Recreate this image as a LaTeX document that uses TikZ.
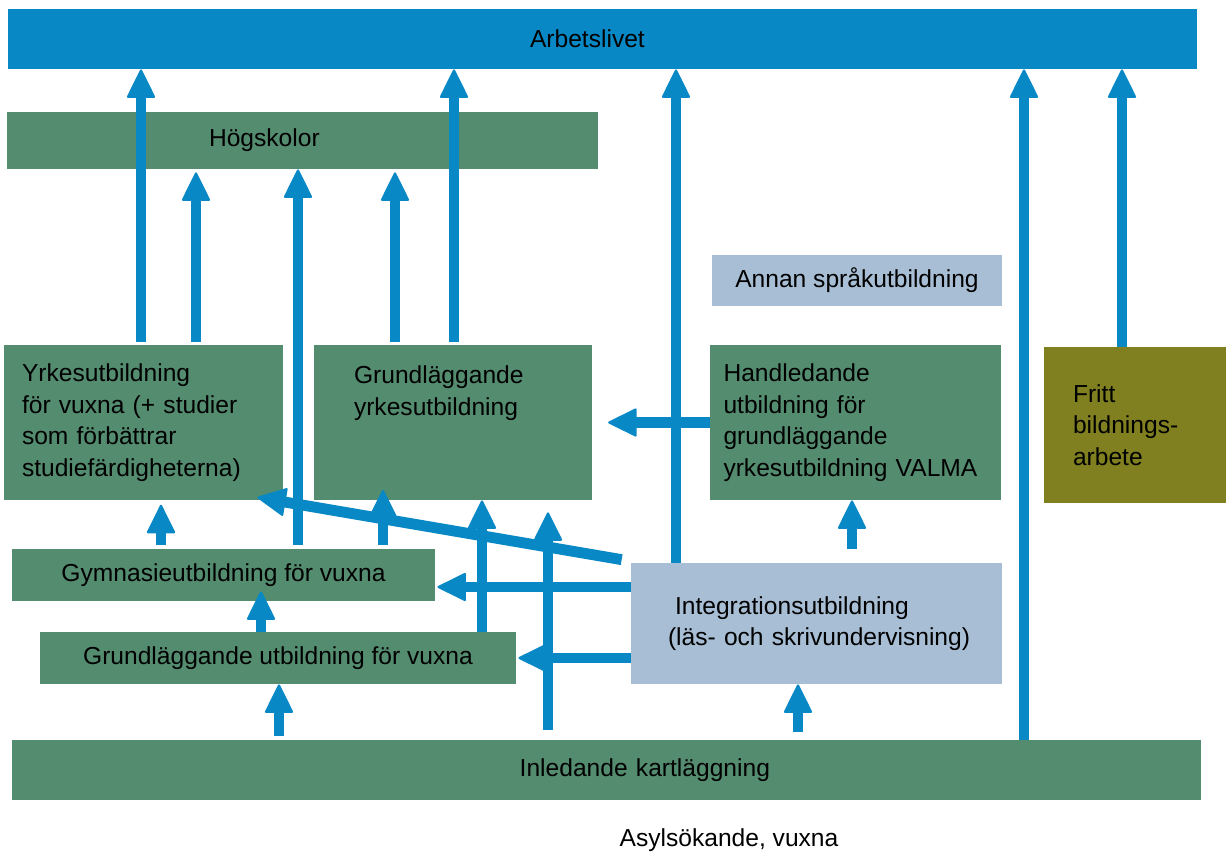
\documentclass[tikz,border=0pt]{standalone}
\usepackage{fontspec}
\setmainfont{Liberation Sans}
\usetikzlibrary{arrows.meta}
\definecolor{arbblue}{RGB}{8,137,198}
\definecolor{boxgreen}{RGB}{84,140,112}
\definecolor{paleblue}{RGB}{168,190,212}
\definecolor{frittolive}{RGB}{128,128,32}
\hyphenpenalty=10000
\tikzset{
 wh/.style 2 args={minimum width=#1*0.02cm,minimum height=#2*0.02cm},
 tw/.style={text width=#1*0.02cm},
 box/.style={fill=boxgreen,inner sep=0pt,align=left},
 pale/.style={box,fill=paleblue},
 fritt/.style={box,fill=frittolive},
 topbar/.style={box,fill=arbblue},
 arr/.style={draw=arbblue,line width=6.2pt,-{Triangle[length=17pt,width=16.5pt,line width=1.2pt,round]}}}
\begin{document}
\begin{tikzpicture}[x=0.02cm,y=-0.02cm,font=\fontsize{14}{18}\selectfont]
\useasboundingbox (0,0) rectangle (1232,856);
\node[topbar,wh={1189}{60},tw=145] (arbete) at (602.5,39) {Arbetslivet};
\node[box,wh={591}{57},tw=187] (hogsk) at (302.5,140.5) {Högskolor};
\node[box,wh={279}{155},tw=243] (yrk) at (143.5,422.5)
 {Yrkesutbildning\\för vuxna (+ studier\\som förbättrar\\studiefärdigheterna)};
\node[box,wh={278}{155},tw=198] (grundyrk) at (453,422.5) {Grundläggande\\yrkesutbildning\\\mbox{}\\\mbox{}};
\node[pale,wh={290}{51},align=center] (annan) at (857,280.5) {Annan språkutbildning};
\node[box,wh={291}{155},tw=264] (valma) at (855.5,422.5)
 {Handledande\\utbildning för\\grundläggande\\yrkesutbildning VALMA};
\node[fritt,wh={182}{156},tw=124] (fritt) at (1135,425) {Fritt\\bildnings-\\arbete};
\node[box,wh={423}{52},align=center] (gymn) at (223.5,575) {Gymnasieutbildning för vuxna};
\node[box,wh={476}{52},align=center] (grundutb) at (278,658) {Grundläggande utbildning för vuxna};
\node[pale,wh={371}{121},tw=297] (integ) at (816.5,623.5)
 {\hspace*{4pt}Integrationsutbildning\\\mbox{(läs- och skrivundervisning)}};
\node[box,wh={1189}{60},tw=327,align=right] (inled) at (606.5,770) {Inledande kartläggning};
\node (asyl) at (729,840) {Asylsökande, vuxna};
% upward arrows
\draw[arr,shorten <=1.7pt] (141,0 |- yrk.north) -- (141,0 |- arbete.south);
\draw[arr,shorten <=1.7pt,shorten >=1.7pt] (196,0 |- yrk.north) -- (196,0 |- hogsk.south);
\draw[arr,shorten <=2pt] (298,0 |- gymn.north) -- (298,0 |- hogsk.south);
\draw[arr,shorten <=1.7pt,shorten >=1.7pt] (395,0 |- grundyrk.north) -- (395,0 |- hogsk.south);
\draw[arr,shorten <=1.7pt] (454,0 |- grundyrk.north) -- (454,0 |- arbete.south);
\draw[arr] (676,0 |- integ.north) -- (676,0 |- arbete.south);
\draw[arr] (1024,0 |- inled.north) -- (1024,0 |- arbete.south);
\draw[arr] (1122,0 |- fritt.north) -- (1122,0 |- arbete.south);
\draw[arr,shorten <=2pt,shorten >=2.5pt] (161,0 |- gymn.north) -- (161,0 |- yrk.south);
\draw[arr,shorten <=2pt,shorten >=-6pt] (383,0 |- gymn.north) -- (383,0 |- grundyrk.south);
\draw[arr] (482,0 |- grundutb.north) -- (482,0 |- grundyrk.south);
\draw[arr,shorten <=5.7pt,shorten >=6.8pt] (548,0 |- inled.north) -- (548,0 |- grundyrk.south);
\draw[arr,shorten >=-5.7pt] (261,0 |- grundutb.north) -- (261,0 |- gymn.south);
\draw[arr,shorten <=2.3pt] (279,0 |- inled.north) -- (279,0 |- grundutb.south);
\draw[arr,shorten <=4.5pt] (798,0 |- inled.north) -- (798,0 |- integ.south);
\draw[arr,shorten <=8pt] (852,0 |- integ.north) -- (852,0 |- valma.south);
% leftward arrows
\draw[arr,shorten >=9pt] (valma.west) -- (grundyrk.east);
\draw[arr] ([shift={(-9,-3)}]integ.north west) -- ([shift={(-26,-3)}]yrk.south east);
\draw[arr,shorten >=1.2pt] (integ.west |- 0,587) -- (gymn.east |- 0,587);
\draw[arr,shorten >=1.2pt] (integ.west |- grundutb) -- (grundutb.east);
\end{tikzpicture}
\end{document}
